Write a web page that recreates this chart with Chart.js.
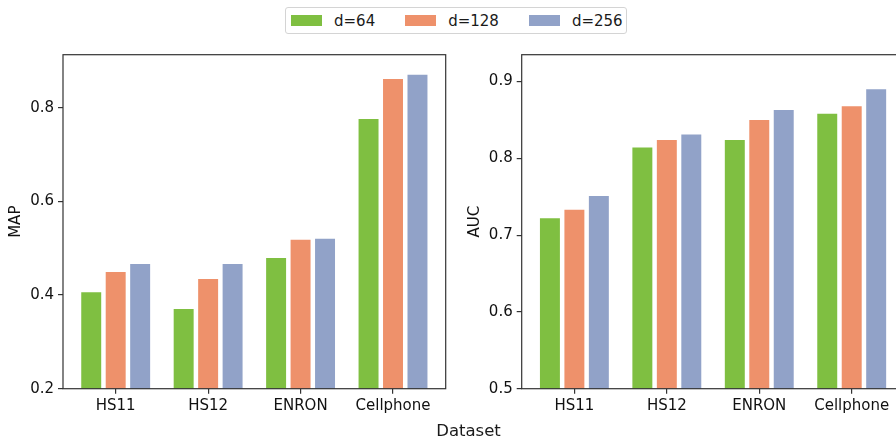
<!DOCTYPE html>
<html>
<head>
<meta charset="utf-8">
<script src="https://cdn.jsdelivr.net/npm/chart.js@4.4.1/dist/chart.umd.min.js"></script>
<style>
  html, body { margin: 0; padding: 0; background: #fff; overflow: hidden; }
  #wrap { position: relative; width: 896px; height: 441px; overflow: hidden; font-family: 'DejaVu Sans', sans-serif; color: #1a1a1a; }
  #mapChart { position: absolute; left: 0; top: 0; }
  #aucChart { position: absolute; left: 460px; top: 0; }
  #legend { position: absolute; left: 285px; top: 7px; width: 342px; height: 27px; box-sizing: border-box;
            border: 1px solid #d4d4d4; border-radius: 3px; background: #fff;
            display: flex; align-items: center; padding-left: 5px; font-size: 15px; }
  #legend .item { display: flex; align-items: center; margin-right: 30px; }
  #legend .patch { width: 31px; height: 11px; margin-right: 12px; }
  #legend .txt { line-height: 18px; padding-top: 1px; }
  #xlabel { position: absolute; left: 468.5px; top: 423px; transform: translateX(-50%); font-size: 16.5px; line-height: 16.5px; white-space: nowrap; }
</style>
</head>
<body>
<div id="wrap">
  <canvas id="mapChart" width="460" height="441"></canvas>
  <canvas id="aucChart" width="460" height="441"></canvas>
  <div id="legend"></div>
  <div id="xlabel">Dataset</div>
</div>
<script>
// data
const categories = ['HS11', 'HS12', 'ENRON', 'Cellphone'];
const seriesNames = ['d=64', 'd=128', 'd=256'];
const seriesColors = ['#7fbf41', '#ee916b', '#91a2c8'];

const mapD64 = [0.406, 0.370, 0.479, 0.776];
const mapD128 = [0.449, 0.434, 0.518, 0.861];
const mapD256 = [0.466, 0.466, 0.520, 0.870];
const mapTicks = [0.2, 0.4, 0.6, 0.8];

const aucD64 = [0.722, 0.814, 0.824, 0.858];
const aucD128 = [0.733, 0.824, 0.850, 0.868];
const aucD256 = [0.751, 0.831, 0.863, 0.890];
const aucTicks = [0.5, 0.6, 0.7, 0.8, 0.9];

const axisColor = '#333333';
const textColor = '#111111';
const font = { family: 'DejaVu Sans', size: 15 };

// box around plot area (top + right spines too)
const framePlugin = {
  id: 'frame',
  afterDatasetsDraw(chart) {
    const { ctx, chartArea: a } = chart;
    ctx.save();
    ctx.strokeStyle = axisColor;
    ctx.lineWidth = 1.2;
    ctx.strokeRect(a.left, a.top, a.right - a.left, a.bottom - a.top);
    ctx.restore();
  }
};

function toPoints(values) {
  return values.map((v, i) => ({ x: i, y: v }));
}

function makeChart(id, yTitle, series, yMin, yMax, yTicks, yWidth, padRight, titlePad) {
  return new Chart(document.getElementById(id), {
    type: 'bar',
    data: {
      datasets: series.map((vals, k) => ({
        label: seriesNames[k],
        data: toPoints(vals),
        backgroundColor: seriesColors[k],
        borderWidth: 0,
        categoryPercentage: 0.794,
        barPercentage: 0.816
      }))
    },
    options: {
      responsive: false,
      devicePixelRatio: 1,
      animation: false,
      layout: { padding: { top: 54.7, right: padRight, bottom: 0, left: 0 } },
      plugins: { legend: { display: false }, tooltip: { enabled: false } },
      scales: {
        x: {
          type: 'linear',
          min: -0.57,
          max: 3.57,
          offset: false,
          afterBuildTicks: s => { s.ticks = categories.map((c, i) => ({ value: i })); },
          afterFit: s => { s.height = 52.3; },
          ticks: {
            callback: v => categories[v],
            autoSkip: false, maxRotation: 0, padding: 3,
            color: textColor, font: font
          },
          grid: { offset: false, drawOnChartArea: false, drawTicks: true, tickLength: 5, color: axisColor, lineWidth: 1.2 },
          border: { display: false }
        },
        y: {
          min: yMin,
          max: yMax,
          beginAtZero: false,
          afterBuildTicks: s => { s.ticks = yTicks.map(v => ({ value: v })); },
          afterFit: s => { s.width = yWidth; },
          ticks: { callback: v => v.toFixed(1), padding: 4, color: textColor, font: font },
          grid: { drawOnChartArea: false, drawTicks: true, tickLength: 5, color: axisColor, lineWidth: 1.2 },
          border: { display: false },
          title: { display: true, text: yTitle, color: textColor, font: font, padding: { top: titlePad, bottom: 0 } }
        }
      }
    },
    plugins: [framePlugin]
  });
}

makeChart('mapChart', 'MAP', [mapD64, mapD128, mapD256], 0.2, 0.913, mapTicks, 63, 14.3, 7);
makeChart('aucChart', 'AUC', [aucD64, aucD128, aucD256], 0.5, 0.935, aucTicks, 61.7, 15.6, 6);

// shared legend
const legend = document.getElementById('legend');
seriesNames.forEach((name, k) => {
  const item = document.createElement('div');
  item.className = 'item';
  const patch = document.createElement('span');
  patch.className = 'patch';
  patch.style.background = seriesColors[k];
  const txt = document.createElement('span');
  txt.className = 'txt';
  txt.textContent = name;
  item.appendChild(patch);
  item.appendChild(txt);
  legend.appendChild(item);
});
</script>
</body>
</html>
